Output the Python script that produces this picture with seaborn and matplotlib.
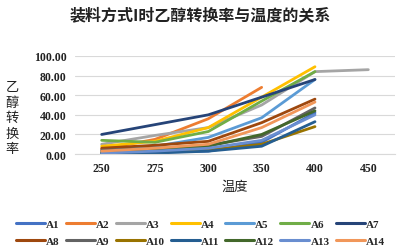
import matplotlib
matplotlib.use("Agg")
import matplotlib.pyplot as plt
import seaborn as sns
import pandas as pd

categories = ["250", "275", "300", "350", "400", "450"]
series_names = ["A1", "A2", "A3", "A4", "A5", "A6", "A7",
                "A8", "A9", "A10", "A11", "A12", "A13", "A14"]
A1 = [1, 2, 3, 12, 42]
A2 = [5, 15, 36, 68]
A3 = [10, 19, 27, 50, 84, 86]
A4 = [8, 13, 27, 58, 89]
A5 = [3, 8, 17, 37, 76]
A6 = [14, 12, 23, 54, 84]
A7 = [20, 30, 40, 58, 76]
A8 = [6, 9, 13, 32, 56]
A9 = [4, 6, 9, 18, 47]
A10 = [1, 2, 4, 10, 28]
A11 = [0, 1, 3, 8, 33]
A12 = [2, 4, 8, 20, 44]
A13 = [1, 3, 6, 14, 40]
A14 = [3, 6, 10, 27, 53]
values = [A1, A2, A3, A4, A5, A6, A7, A8, A9, A10, A11, A12, A13, A14]
colors = ["#4472C4", "#ED7D31", "#A5A5A5", "#FFC000", "#5B9BD5", "#70AD47",
          "#264478", "#9E480E", "#636363", "#997300", "#255E91", "#43682B",
          "#698ED0", "#F1975A"]

rows = []
for name, vals in zip(series_names, values):
    for i, v in enumerate(vals):
        rows.append({"pos": i, "value": v, "series": name})
df = pd.DataFrame(rows)

sns.set_theme(style="white")
plt.rcParams["font.family"] = ["Liberation Serif", "Noto Sans CJK SC", "DejaVu Sans"]
cjk = ["Noto Sans CJK SC", "DejaVu Sans"]

fig = plt.figure(figsize=(4.01, 2.53), dpi=100)
ax = fig.add_axes([0.187, 0.387, 0.798, 0.388])

sns.lineplot(data=df, x="pos", y="value", hue="series", hue_order=series_names,
             palette=colors, linewidth=2.0, ax=ax, legend=False)

ax.set_xlim(-0.5, len(categories) - 0.5)
ax.set_ylim(0, 100)
ax.set_yticks([0, 20, 40, 60, 80, 100])
ax.set_yticklabels([f"{v:.2f}" for v in [0, 20, 40, 60, 80, 100]],
                   fontsize=8.5, fontweight="bold", color="#222222")
ax.set_xticks(range(len(categories)))
ax.set_xticklabels(categories, fontsize=8.5, fontweight="bold", color="#222222")
ax.tick_params(axis="both", length=0, pad=6)
ax.grid(axis="y", color="#D9D9D9", linewidth=0.8)
ax.set_axisbelow(True)
for s in ["left", "right", "top"]:
    ax.spines[s].set_visible(False)
ax.spines["bottom"].set_color("#D9D9D9")
ax.spines["bottom"].set_linewidth(0.8)
ax.set_xlabel("温度", family=cjk, fontsize=9.5, labelpad=4, color="#222222")
ax.set_ylabel("")

fig.text(0.03, 0.53, "乙\n醇\n转\n换\n率", family=cjk, fontsize=9.5,
         ha="center", va="center", linespacing=1.25, color="#222222")
fig.text(0.5, 0.94, "装料方式I时乙醇转换率与温度的关系", family=cjk,
         fontsize=11.5, fontweight="bold", ha="center", va="center", color="#222222")

handles = [plt.Line2D([], [], color=c, linewidth=2.2) for c in colors]
order = []
for i in range(7):
    order += [i, i + 7]
fig.legend([handles[i] for i in order], [series_names[i] for i in order],
           loc="center", bbox_to_anchor=(0.5, 0.077),
           ncol=7, frameon=False, handlelength=2.6,
           handletextpad=0.1, columnspacing=0.55, labelspacing=0.6,
           borderaxespad=0, borderpad=0,
           prop={"family": "Liberation Serif", "weight": "bold", "size": 8})

fig.savefig("out.png", dpi=100)
